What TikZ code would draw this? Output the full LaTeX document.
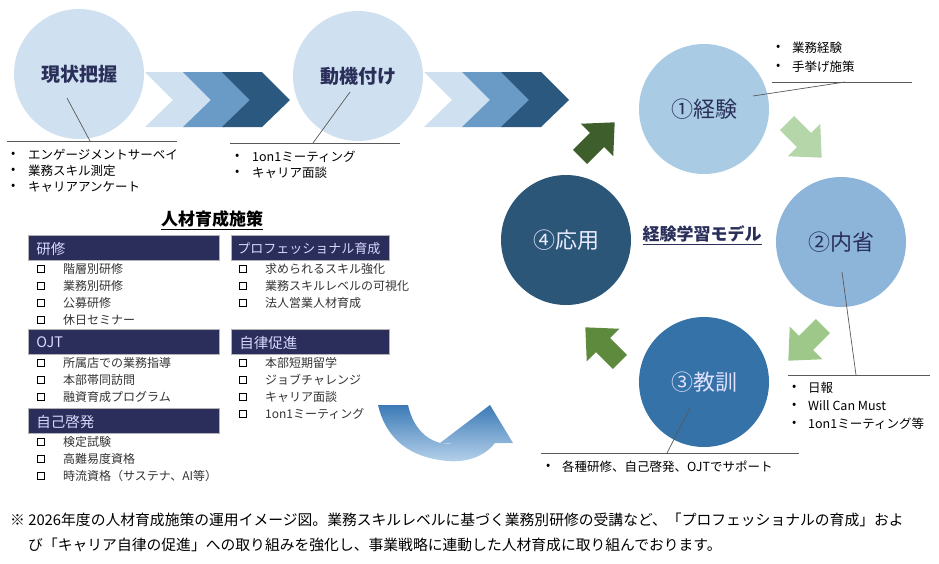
\documentclass[tikz,border=0pt]{standalone}
\usepackage{fontspec}
\setmainfont{Noto Sans CJK JP}
\usetikzlibrary{calc}
\definecolor{navy}{HTML}{2A2F5A}
\definecolor{hdr}{HTML}{2B2D5A}
\definecolor{lc}{HTML}{CFE0F0}
\definecolor{mc}{HTML}{6A9AC6}
\definecolor{dc}{HTML}{2B587E}
\definecolor{txt}{HTML}{333333}
\definecolor{ca}{RGB}{169,203,228}
\definecolor{cb}{RGB}{141,181,218}
\definecolor{cc}{RGB}{53,114,168}
\definecolor{cd}{RGB}{43,86,120}
\definecolor{ga}{RGB}{62,95,44}
\definecolor{gb}{RGB}{181,214,168}
\definecolor{gc}{RGB}{157,200,138}
\definecolor{gd}{RGB}{94,138,62}
\definecolor{sa}{RGB}{60,122,182}
\definecolor{sb}{RGB}{184,211,236}
\tikzset{
 pcirc/.style={circle,fill=lc,minimum size=130pt,inner sep=0pt,font=\fontsize{19}{21}\selectfont\bfseries,text=navy},
 ccirc/.style={circle,minimum size=130pt,inner sep=0pt,font=\fontsize{22}{24}\selectfont},
 bl/.style={anchor=west,font=\fontsize{12.5}{14}\selectfont,text=black,inner sep=0pt},
 hd/.style={fill=hdr,draw=gray!60,line width=0.8pt,anchor=north west,minimum height=25pt,text=white!85!blue,font=\fontsize{14.5}{16}\selectfont,inner xsep=8pt,text depth=0pt,align=left},
 it/.style={anchor=west,font=\fontsize{12}{13}\selectfont,text=txt,inner sep=0pt},
 cl/.style={draw=gray!70!black,line width=0.7pt},
 fn/.style={anchor=west,inner sep=0pt,font=\fontsize{14.8}{16}\selectfont},
}
\newcommand{\chev}[3]{\fill[#3] (#1,72) -- (#2,72) -- (#2+28,100) -- (#2,127) -- (#1,127) -- (#1+28,100) -- cycle;}
\newcommand{\bigarrow}[4]{\begin{scope}[shift={(#1,#2)},rotate=#3]\fill[#4] (-24,-10) -- (0,-10) -- (0,-23) -- (25,0) -- (0,23) -- (0,10) -- (-24,10) -- cycle;\end{scope}}
\newcommand{\cbox}[2]{\draw[line width=1.5pt] ($(#1,#2)+(-3.5,-3.5)$) rectangle ($(#1,#2)+(3.5,3.5)$);}
\begin{document}
\begin{tikzpicture}[x=1pt,y=-1pt]
\useasboundingbox (0,0) rectangle (939,563);
% chevrons
\chev{145}{190}{lc}
\chev{183}{225}{mc}
\chev{222}{262}{dc}
\chev{424}{470}{lc}
\chev{462}{503}{mc}
\chev{501}{541}{dc}
\node[pcirc] (c1) at (79,74) {現状把握};
\node[pcirc] (c2) at (358,76) {動機付け};
% callouts top
\coordinate (l1a) at (7,141); \coordinate (l1b) at (177,141); \coordinate (l1c) at (90,141);
\draw[cl] (l1a) -- (l1b); \draw[cl] (67,98) -- (l1c);
\coordinate (l2a) at (230,143); \coordinate (l2b) at (400,143); \coordinate (l2c) at (313,143);
\draw[cl] (l2a) -- (l2b); \draw[cl] (350,92) -- (l2c);
\foreach \t [count=\i] in {エンゲージメントサーベイ,業務スキル測定,キャリアアンケート}{
 \node[bl] at (11,139+16*\i) {•}; \node[bl] (b1\i) at (28,139+16*\i) {\t};}
\foreach \t [count=\i] in {1on1ミーティング,キャリア面談}{
 \node[bl] at (235,141+16*\i) {•}; \node[bl] (b2\i) at (252,141+16*\i) {\t};}
% cycle
\node[ccirc,fill=ca,text=navy] (e1) at (704,109) {①経験};
\node[ccirc,fill=cb,text=navy] (e2) at (841,242) {②内省};
\node[ccirc,fill=cc,text=white!88!blue] (e3) at (704,382) {③教訓};
\node[ccirc,fill=cd,text=white!92!blue] (e4) at (566,240) {④応用};
\node[font=\fontsize{17}{18}\selectfont\bfseries,text=navy] (m) at (702,235) {\underline{経験学習モデル}};
\bigarrow{597}{140}{45}{ga}
\bigarrow{804}{140}{-45}{gb}
\bigarrow{806}{343}{-135}{gc}
\bigarrow{603}{345}{135}{gd}
% callouts cycle
\draw[cl] (772,82) -- (912,82); \draw[cl] (753,96) -- (845,82);
\foreach \t [count=\i] in {業務経験,手挙げ施策}{
 \node[bl] at (776,29+19*\i) {•}; \node[bl] at (792,29+19*\i) {\t};}
\draw[cl] (788,375) -- (930,375); \draw[cl] (842,272) -- (856,375);
\foreach \t [count=\i] in {日報,Will Can Must,1on1ミーティング等}{
 \node[bl] at (792,370+18*\i) {•}; \node[bl] at (808,370+18*\i) {\t};}
\draw[cl] (541,453) -- (799,453); \draw[cl] (690,408) -- (667,453);
\node[bl] at (546,467) {•}; \node[bl] at (562,467) {各種研修、自己啓発、OJTでサポート};
% table
\node[font=\fontsize{17}{18}\selectfont\bfseries] (tt) at (212,220) {\underline{人材育成施策}};
\node[hd,text width=175pt] (h1) at (28,235) {研修};
\node[hd,text width=146pt,inner xsep=6pt,font=\fontsize{13}{15}\selectfont] (h2) at (231,235) {プロフェッショナル育成};
\node[hd,text width=175pt] (h3) at (28,329) {OJT};
\node[hd,text width=142pt] (h4) at (231,329) {自律促進};
\node[hd,text width=175pt] (h5) at (28,408) {自己啓発};
\foreach \t [count=\i] in {階層別研修,業務別研修,公募研修,休日セミナー}{
 \cbox{41}{252+17*\i} \node[it] at (63,252+17*\i) {\t};}
\foreach \t [count=\i] in {所属店での業務指導,本部帯同訪問,融資育成プログラム}{
 \cbox{41}{346+17*\i} \node[it] at (63,346+17*\i) {\t};}
\foreach \t [count=\i] in {検定試験,高難易度資格,時流資格（サステナ、AI等）}{
 \cbox{41}{425+17*\i} \node[it] at (63,425+17*\i) {\t};}
\foreach \t [count=\i] in {求められるスキル強化,業務スキルレベルの可視化,法人営業人材育成}{
 \cbox{243}{252+17*\i} \node[it] at (265,252+17*\i) {\t};}
\foreach \t [count=\i] in {本部短期留学,ジョブチャレンジ,キャリア面談,1on1ミーティング}{
 \cbox{243}{346+17*\i} \node[it] at (265,346+17*\i) {\t};}
% curved arrow
\shade[top color=sa,bottom color=sb]
 (378,405) -- (408,405) .. controls (414,432) and (432,446) .. (455,444) -- (440,443) -- (490,405) -- (513,443) -- (495,443) .. controls (480,462) and (455,463) .. (440,460) .. controls (405,455) and (385,435) .. (378,405) -- cycle;
% footnote
\node[fn] (f1) at (10,520) {※ 2026年度の人材育成施策の運用イメージ図。業務スキルレベルに基づく業務別研修の受講など、「プロフェッショナルの育成」およ};
\node[fn] (f2) at (28,545) {び「キャリア自律の促進」への取り組みを強化し、事業戦略に連動した人材育成に取り組んでおります。};
\end{tikzpicture}
\end{document}
